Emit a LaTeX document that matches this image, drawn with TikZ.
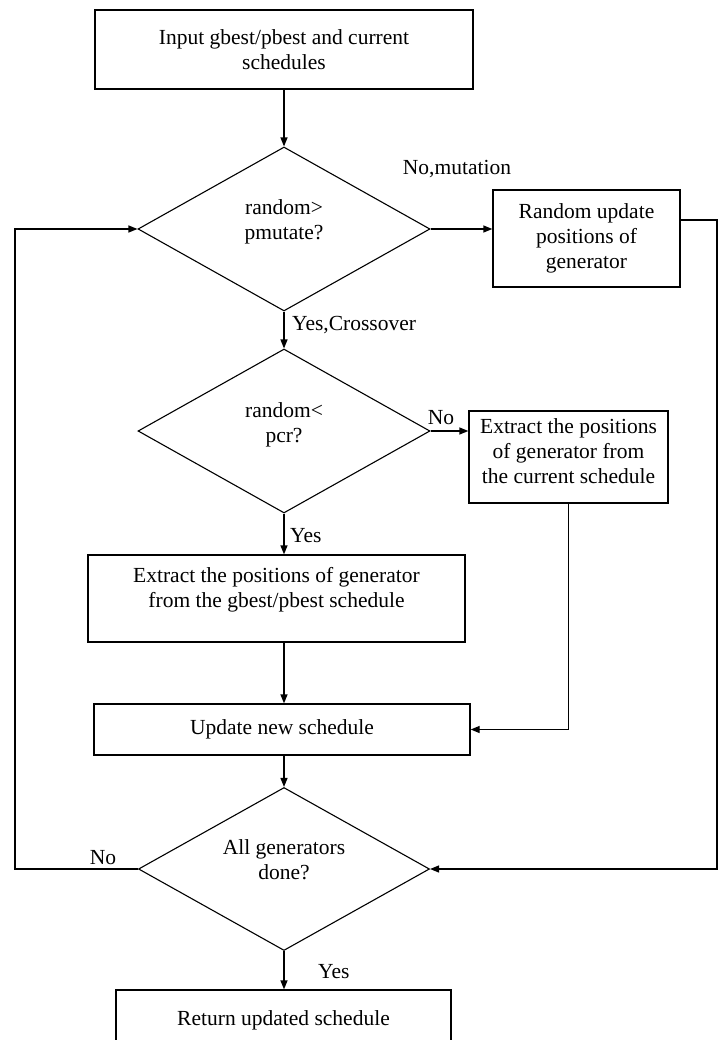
\documentclass[tikz,border=0pt]{standalone}
\usepackage{fontspec}
\setmainfont{Liberation Serif}
\usetikzlibrary{shapes.geometric,arrows.meta}
\begin{document}
\begin{tikzpicture}[x=1pt,y=-1pt,
  font=\fontsize{21.5}{25}\selectfont,
  box/.style={draw, line width=1.3pt, align=center, inner sep=0pt},
  dia/.style={draw, diamond, line width=1.1pt, inner sep=0pt, minimum width=292pt, minimum height=164pt},
  lbl/.style={inner sep=0pt, align=center},
  arr/.style={line width=1.3pt, -{Triangle[length=9pt,width=7pt]}},
  ln/.style={line width=1.3pt}]
\clip (0,0) rectangle (718,1040);
\useasboundingbox (0,0) rectangle (718,1040);

\node[box, minimum width=378pt, minimum height=79pt] (input) at (284,49.5) {Input gbest/pbest and current\\schedules};

\node[dia] (d1) at (284,229) {};
\node[lbl] (d1t) at (284,222) {random>\\pmutate?};

\node[box, minimum width=187pt, minimum height=97pt] (rnd) at (586.5,238.5) {Random update\\positions of\\generator};

\node[dia] (d2) at (284,431) {};
\node[lbl] (d2t) at (284,425) {random<\\pcr?};

\node[box, minimum width=199pt, minimum height=92pt] (cur) at (568.5,457) {};
\node[lbl] (curt) at (568.5,451) {Extract the positions\\of generator from\\the current schedule};

\node[box, minimum width=377pt, minimum height=87pt] (gb) at (276.5,598.5) {};
\node[lbl] (gbt) at (276.5,590) {Extract the positions of generator\\from the gbest/pbest schedule};

\node[box, minimum width=376pt, minimum height=51pt] (upd) at (282,729.5) {Update new schedule};

\node[dia, minimum width=291pt, minimum height=163pt] (d3) at (284,869) {};
\node[lbl] (d3t) at (284,860) {All generators\\done?};

\node[box, minimum width=335pt, minimum height=60pt] (ret) at (283.5,1020) {Return updated schedule};

% labels
\node[lbl] (nomut) at (457,169) {No,mutation};
\node[lbl, anchor=west] (yescross) at (292,325) {Yes,Crossover};
\node[lbl] (no2) at (441,418) {No};
\node[lbl, anchor=west] (yes2) at (290,536) {Yes};
\node[lbl] (no3) at (103,858) {No};
\node[lbl, anchor=west] (yes3) at (318,972) {Yes};

% coordinates for the loops
\coordinate (rr) at (717,220);
\coordinate (rb) at (717,869);
\coordinate (lb) at (15,869);
\coordinate (lt) at (15,229);

% connectors
\draw[arr] (input.south) -- (d1.north);
\draw[arr] (d1.east) -- (rnd.west |- d1.east);
\draw[arr] (rnd.east |- rr) -- (rr) -- (rb) -- (d3.east);
\draw[arr] (d1.south) -- (d2.north);
\draw[arr] (d2.east) -- (cur.west |- d2.east);
\draw[arr] (d2.south) -- (d2.south |- gb.north);
\draw[arr] (d2.south |- gb.south) -- (d2.south |- upd.north);
\draw[arr] (cur.south) -- (cur.south |- upd.east) -- (upd.east);
\draw[arr] (d3.north |- upd.south) -- (d3.north);
\draw[arr] (d3.west) -- (lb) -- (lt) -- (d1.west);
\draw[arr] (d3.south) -- (d3.south |- ret.north);
\end{tikzpicture}
\end{document}
